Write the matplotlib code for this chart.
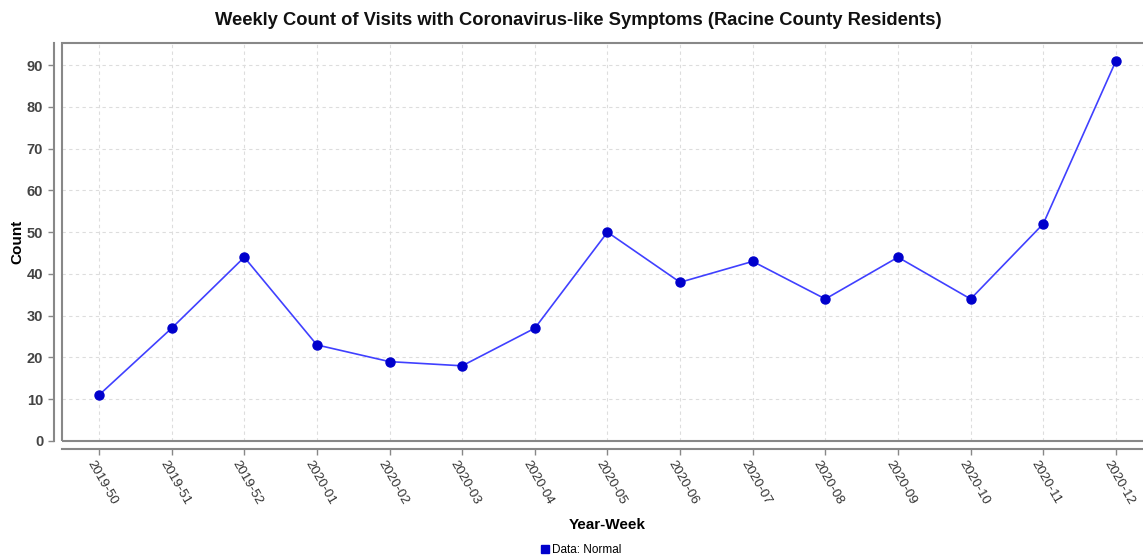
import matplotlib.pyplot as plt
from matplotlib.lines import Line2D
from matplotlib.patches import Rectangle
from matplotlib.transforms import ScaledTranslation

plt.rcParams["font.family"] = ["Liberation Sans", "DejaVu Sans"]

# Weekly counts.
weeks = ["2019-50", "2019-51", "2019-52", "2020-01", "2020-02", "2020-03",
         "2020-04", "2020-05", "2020-06", "2020-07", "2020-08", "2020-09",
         "2020-10", "2020-11", "2020-12"]
counts = [11, 27, 44, 23, 19, 18, 27, 50, 38, 43, 34, 44, 34, 52, 91]
y_ticks = [0, 10, 20, 30, 40, 50, 60, 70, 80, 90]

fig = plt.figure(figsize=(11.43, 5.57), dpi=100)
ax = fig.add_axes([0.0542, 0.2083, 0.9545, 0.7145])

x = list(range(len(weeks)))
ax.plot(x, counts, color="#4040ff", linewidth=1.2, zorder=3)
ax.plot(x, counts, linestyle="none", marker="o", markersize=6.5,
        color="#0000cc", zorder=4)

ax.set_xlim(-0.51, len(weeks) - 0.49)
ax.set_ylim(0, 95.3)
ax.set_yticks(y_ticks)
ax.set_xticks(x)

ax.grid(True, color="#dddddd", linestyle=(0, (3, 3)), linewidth=0.8)
ax.set_axisbelow(True)

# Plot outline plus offset axis lines (JFreeChart look).
for side in ["top", "right"]:
    ax.spines[side].set_visible(False)
for side in ["left", "bottom"]:
    ax.spines[side].set_position(("outward", 6))
    ax.spines[side].set_color("#888888")
    ax.spines[side].set_linewidth(1.5)
ax.add_patch(Rectangle((0, 0), 1, 1, transform=ax.transAxes, fill=False,
                       edgecolor="#888888", linewidth=1.5, clip_on=False,
                       zorder=5))
ax.tick_params(axis="both", color="#888888", length=4, width=1)
ax.tick_params(axis="x", pad=5)

# Tick label styling after tick_params so it sticks.
ax.set_xticklabels(weeks)
shift = ScaledTranslation(-9 / 100, 0, fig.dpi_scale_trans)
for lbl in ax.get_xticklabels():
    lbl.set_rotation(-60)
    lbl.set_rotation_mode("anchor")
    lbl.set_ha("left")
    lbl.set_va("center")
    lbl.set_fontsize(9.5)
    lbl.set_color("#333333")
    lbl.set_transform(lbl.get_transform() + shift)
ax.set_yticks(y_ticks, [str(v) for v in y_ticks])
for lbl in ax.get_yticklabels():
    lbl.set_fontweight("bold")
    lbl.set_fontsize(10.5)
    lbl.set_color("#444444")

ax.set_xlabel("Year-Week", fontweight="bold", fontsize=11, labelpad=8)
ax.set_ylabel("Count", fontweight="bold", fontsize=11, labelpad=2)
fig.text(0.506, 0.963, "Weekly Count of Visits with Coronavirus-like Symptoms (Racine County Residents)",
         ha="center", va="center", fontsize=13.2, fontweight="bold",
         color="#111111")

handle = Line2D([], [], linestyle="none", marker="s", markersize=6,
                color="#0000cc")
fig.legend([handle], ["Data: Normal"], loc="center", bbox_to_anchor=(0.508, 0.013),
           frameon=False, fontsize=8.5, handletextpad=0.2, borderpad=0,
           handlelength=0.8)

fig.savefig("out.png", dpi=100)
